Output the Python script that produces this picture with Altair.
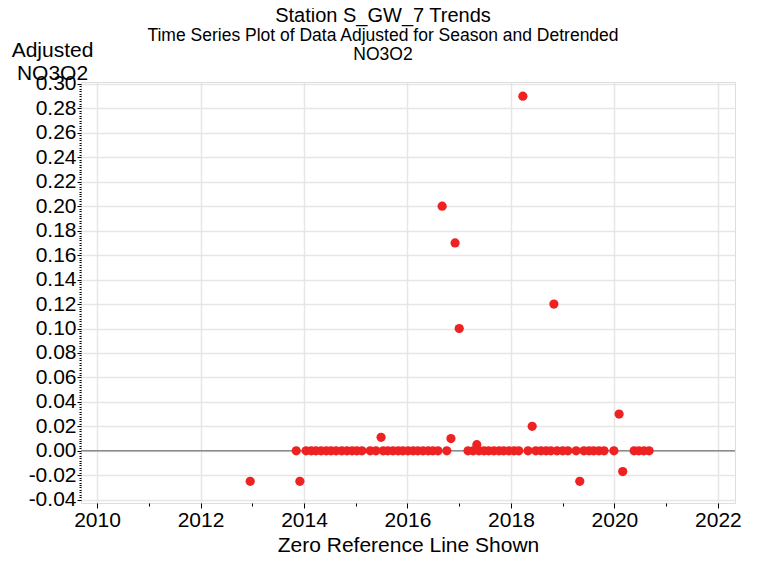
import altair as alt
import pandas as pd

# Decimal-year dates and adjusted NO3O2 values
years = [
    2012.96, 2013.85, 2013.92, 2014.04, 2014.14, 2014.23, 2014.33, 2014.43, 2014.52,
    2014.62, 2014.73, 2014.83, 2014.93, 2015.02, 2015.12, 2015.28, 2015.39, 2015.49,
    2015.53, 2015.62, 2015.72, 2015.82, 2015.91, 2016.01, 2016.11, 2016.20, 2016.30,
    2016.40, 2016.49, 2016.59, 2016.67, 2016.76, 2016.84, 2016.92, 2017.00, 2017.17,
    2017.27, 2017.34, 2017.38, 2017.48, 2017.57, 2017.67, 2017.77, 2017.86, 2017.96,
    2018.06, 2018.15, 2018.23, 2018.33, 2018.41, 2018.48, 2018.58, 2018.68, 2018.77,
    2018.83, 2018.89, 2019.00, 2019.10, 2019.26, 2019.33, 2019.41, 2019.51, 2019.60,
    2019.70, 2019.80, 2019.99, 2020.09, 2020.16, 2020.38, 2020.47, 2020.57, 2020.67,
]
values = [
    -0.025, 0.0, -0.025, 0.0, 0.0, 0.0, 0.0, 0.0, 0.0,
    0.0, 0.0, 0.0, 0.0, 0.0, 0.0, 0.0, 0.0, 0.011,
    0.0, 0.0, 0.0, 0.0, 0.0, 0.0, 0.0, 0.0, 0.0,
    0.0, 0.0, 0.0, 0.20, 0.0, 0.010, 0.17, 0.10, 0.0,
    0.0, 0.005, 0.0, 0.0, 0.0, 0.0, 0.0, 0.0, 0.0,
    0.0, 0.0, 0.29, 0.0, 0.02, 0.0, 0.0, 0.0, 0.0,
    0.12, 0.0, 0.0, 0.0, 0.0, -0.025, 0.0, 0.0, 0.0,
    0.0, 0.0, 0.0, 0.03, -0.017, 0.0, 0.0, 0.0, 0.0,
]

x_ticks = list(range(2010, 2023))
y_ticks = [round(-0.04 + i * 0.002, 3) for i in range(0, 171)]

df = pd.DataFrame({"year": years, "value": values})

FONT = "Liberation Sans, Arial, sans-serif"
MAJOR_Y = "abs(datum.value*50 - round(datum.value*50)) < 0.000001"

x_axis = alt.Axis(
    values=x_ticks,
    tickCount=100,
    labelExpr="datum.value % 2 == 0 ? '' + datum.value : ''",
    grid=True,
    gridColor="#e6e6e6",
    gridWidth=1.5,
    gridOpacity={"condition": {"test": "datum.value % 2 == 0", "value": 1}, "value": 0},
    tickSize={"condition": {"test": "datum.value % 2 == 0", "value": 5}, "value": 3},
    tickColor="#000000",
    domain=False,
    labelFont=FONT,
    labelFontSize=21,
    labelColor="#000000",
    labelPadding=1,
    labelFlush=False,
    labelOverlap=False,
    title="Zero Reference Line Shown",
    titleFont=FONT,
    titleFontSize=21,
    titleFontWeight="normal",
    titleColor="#000000",
    titleBaseline="alphabetic",
    titleY=48,
)

y_axis = alt.Axis(
    values=y_ticks,
    tickCount=400,
    labelExpr="(" + MAJOR_Y + ") ? replace(format(datum.value, '.2f'), '\u2212', '-') : ''",
    grid=True,
    gridColor="#e6e6e6",
    gridWidth=1.5,
    gridOpacity={"condition": {"test": MAJOR_Y, "value": 1}, "value": 0},
    tickSize={"condition": {"test": MAJOR_Y, "value": 4}, "value": 2},
    tickColor="#000000",
    domain=False,
    labelFont=FONT,
    labelFontSize=21,
    labelColor="#000000",
    labelPadding=1,
    labelFlush=False,
    labelOverlap=False,
    title=["Adjusted", "NO3O2"],
    titleFont=FONT,
    titleFontSize=21,
    titleFontWeight="normal",
    titleColor="#000000",
    titleAngle=0,
    titleAlign="center",
    titleBaseline="alphabetic",
    titleLineHeight=23,
    titleX=-29,
    titleY=-26,
)

x_scale = alt.Scale(domain=[2009.69, 2022.33], nice=False, zero=False)
y_scale = alt.Scale(domain=[-0.0427, 0.3016], nice=False, zero=False)

points = alt.Chart(df).mark_circle(size=85, color="#ee2222", opacity=1).encode(
    x=alt.X("year:Q", scale=x_scale, axis=x_axis),
    y=alt.Y("value:Q", scale=y_scale, axis=y_axis),
)

zero = alt.Chart(pd.DataFrame({"z": [0.0]})).mark_rule(color="#8a8a8a", strokeWidth=1.5).encode(
    y=alt.Y("z:Q", scale=y_scale)
)

chart = alt.layer(zero, points).properties(
    width=654,
    height=421,
    autosize=alt.AutoSizeParams(type="none"),
    padding={"left": 73, "top": 74, "right": 15, "bottom": 53},
    title=alt.TitleParams(
        text="Station S_GW_7 Trends",
        subtitle=["Time Series Plot of Data Adjusted for Season and Detrended", "NO3O2"],
        font=FONT,
        fontSize=20,
        fontWeight="normal",
        color="#000000",
        subtitleFont=FONT,
        subtitleFontSize=17.5,
        subtitleColor="#000000",
        subtitlePadding=1,
        subtitleLineHeight=19,
        anchor="middle",
        dx=-25,
        offset=-24,
    ),
).configure_view(stroke="#222222", strokeWidth=1.2).configure(background="white")

chart.save("out.html", embed_options={"renderer": "svg", "actions": False})
